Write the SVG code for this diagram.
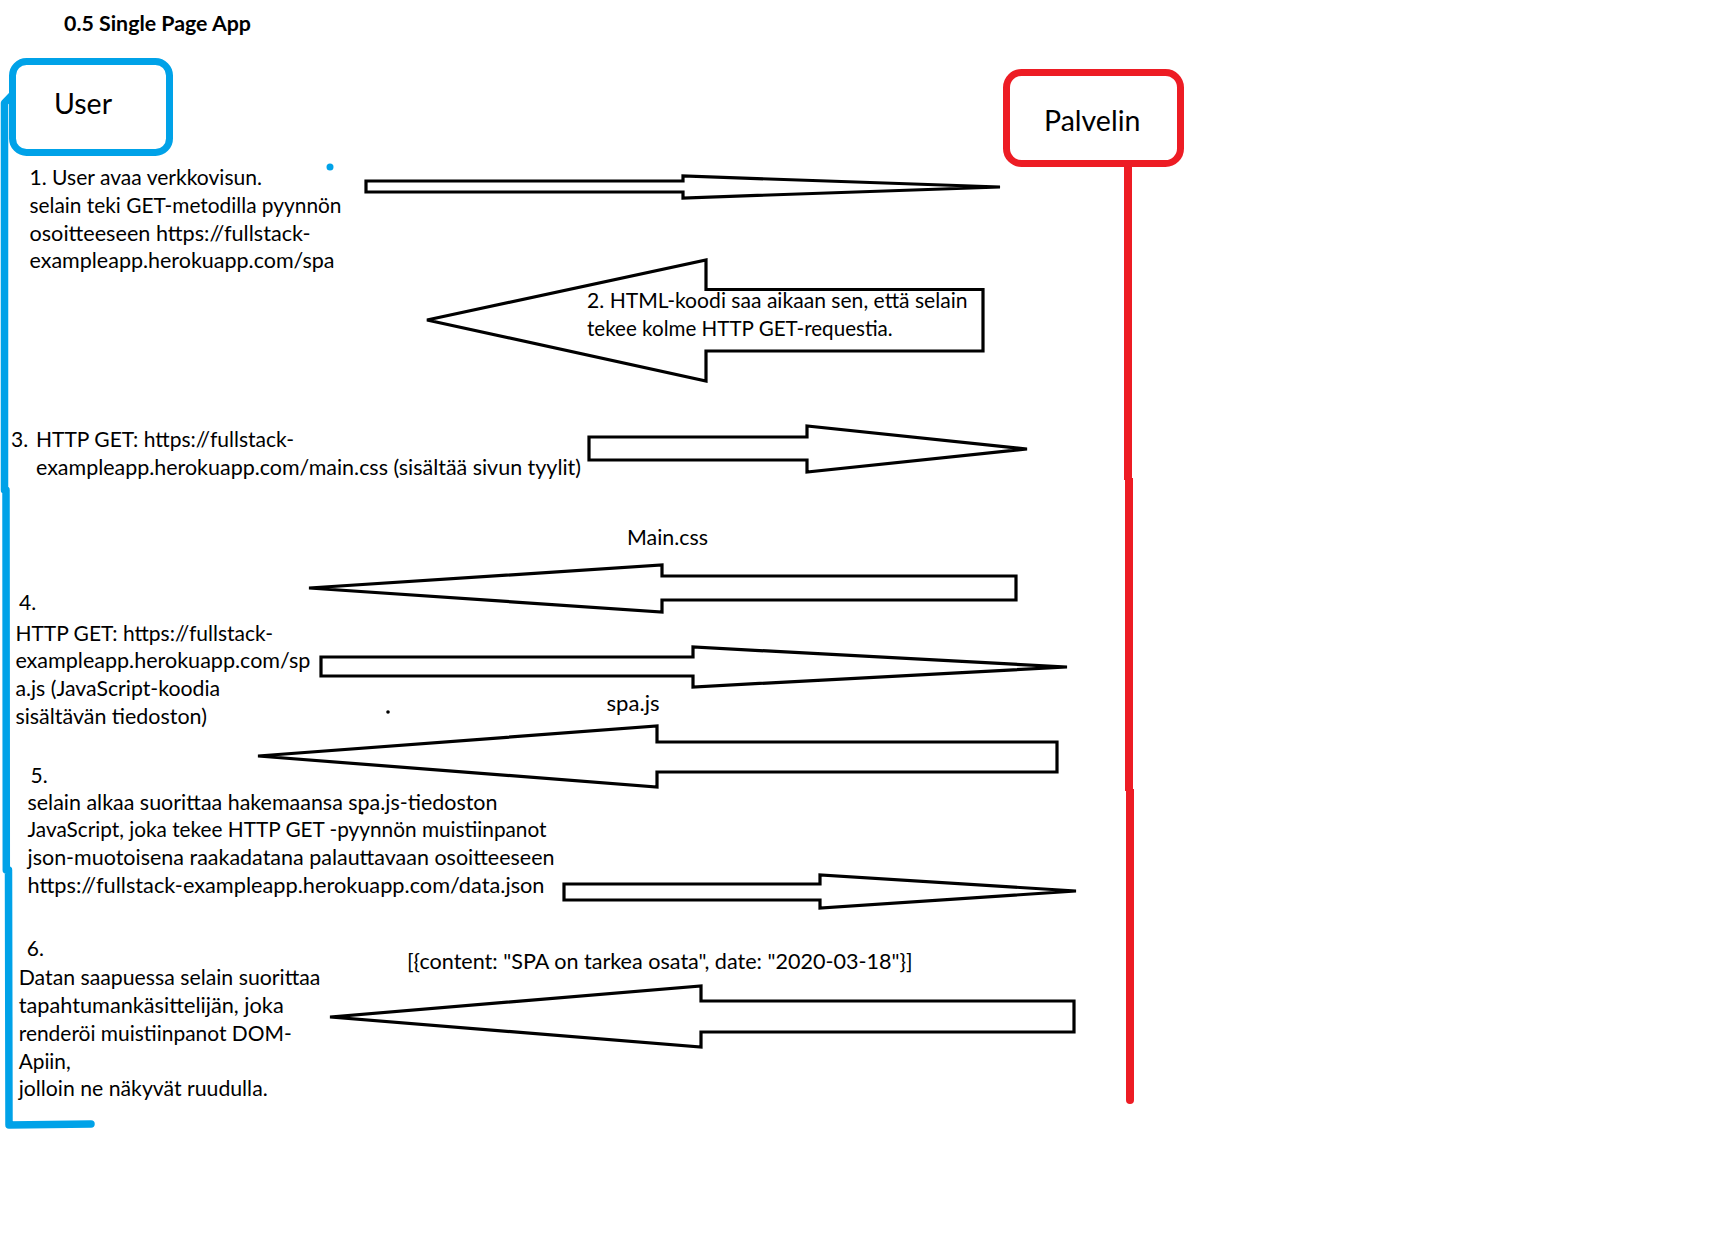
<svg xmlns="http://www.w3.org/2000/svg" width="1726" height="1234" viewBox="0 0 1726 1234">
<style>
  .t { font-family: Lato, "Liberation Sans", sans-serif; font-size: 21px; fill: #000; }
  .title { font-family: Lato, "Liberation Sans", sans-serif; font-size: 21.4px; font-weight: bold; fill: #000; }
  .actor { font-family: Lato, "Liberation Sans", sans-serif; font-size: 28.5px; fill: #000; }
  .arrow { fill: #fff; stroke: #000; stroke-width: 3.2; stroke-linejoin: miter; }
  .blue { fill: none; stroke: #00A2E8; stroke-width: 7.5; stroke-linejoin: round; stroke-linecap: round; }
  .red { fill: none; stroke: #ED1C24; stroke-width: 8; }
</style>
<rect width="1726" height="1234" fill="#fff"/>

<text class="title" x="64" y="31" textLength="187" lengthAdjust="spacingAndGlyphs">0.5 Single Page App</text>

<g id="lifelines">
  <path class="blue" d="M15,92 L4.5,103 L4.5,490 L6,490 L6.3,870 L8.5,870 L9,1125 L91,1124"/>
  <path class="red" d="M1128,165 L1128,480 M1129,478 L1129,791 M1130,789 L1130,1099" />
  <line x1="1130" y1="1095" x2="1130" y2="1100" stroke="#ED1C24" stroke-width="8" stroke-linecap="round"/>
</g>

<g id="user">
  <rect x="12.5" y="61.5" width="157" height="91" rx="14" fill="#fff" stroke="#00A2E8" stroke-width="7"/>
  <text class="actor" x="54" y="114">User</text>
</g>

<g id="palvelin">
  <rect x="1006.5" y="72.5" width="174" height="91" rx="15" fill="#fff" stroke="#ED1C24" stroke-width="7"/>
  <text class="actor" x="1044" y="131">Palvelin</text>
</g>

<g id="connectors">
  <polygon id="arrow1" class="arrow" points="366,181 683,181 683,176 1000,187 683,198 683,192 366,192"/>
  <polygon id="arrow2" class="arrow" points="983,289.5 706,289.5 706,260 427,320 706,381 706,351 983,351"/>
  <polygon id="arrow3" class="arrow" points="589,437 807,437 807,426 1027,449 807,472 807,460 589,460"/>
  <polygon id="arrow4" class="arrow" points="1016,576 662,576 662,565 309,588 662,612 662,600 1016,600"/>
  <polygon id="arrow5" class="arrow" points="321,657 693,657 693,647 1067,667 693,687 693,676 321,676"/>
  <polygon id="arrow6" class="arrow" points="1057,742 657,742 657,726 258,756 657,787 657,772 1057,772"/>
  <polygon id="arrow7" class="arrow" points="564,884 820,884 820,875 1076,891 820,908 820,900 564,900"/>
  <polygon id="arrow8" class="arrow" points="1074,1001 701,1001 701,986 330,1017 701,1047 701,1032 1074,1032"/>
</g>

<g id="marks">
  <circle cx="330" cy="167" r="3.5" fill="#00A2E8"/>
  <circle cx="388" cy="712" r="1.8" fill="#000"/>
  <circle cx="362" cy="813" r="1.5" fill="#000"/>
</g>

<g id="labels">
  <text class="t" x="29.5" y="185" textLength="232.5" lengthAdjust="spacingAndGlyphs">1. User avaa verkkovisun.</text>
  <text class="t" x="29.5" y="213" textLength="312" lengthAdjust="spacingAndGlyphs">selain teki GET-metodilla pyynnön</text>
  <text class="t" x="29.5" y="241" textLength="281" lengthAdjust="spacingAndGlyphs">osoitteeseen https://fullstack-</text>
  <text class="t" x="29.5" y="268" textLength="305" lengthAdjust="spacingAndGlyphs">exampleapp.herokuapp.com/spa</text>

  <text class="t" x="587" y="308" textLength="380.6" lengthAdjust="spacingAndGlyphs">2. HTML-koodi saa aikaan sen, että selain</text>
  <text class="t" x="587" y="336" textLength="305.7" lengthAdjust="spacingAndGlyphs">tekee kolme HTTP GET-requestia.</text>

  <text class="t" x="11" y="447">3.</text>
  <text class="t" x="36" y="447" textLength="258" lengthAdjust="spacingAndGlyphs">HTTP GET: https://fullstack-</text>
  <text class="t" x="36" y="475" textLength="545" lengthAdjust="spacingAndGlyphs">exampleapp.herokuapp.com/main.css (sisältää sivun tyylit)</text>

  <text class="t" x="627" y="545" textLength="81" lengthAdjust="spacingAndGlyphs">Main.css</text>

  <text class="t" x="19" y="610">4.</text>
  <text class="t" x="15.4" y="641" textLength="257.6" lengthAdjust="spacingAndGlyphs">HTTP GET: https://fullstack-</text>
  <text class="t" x="15.4" y="668" textLength="295" lengthAdjust="spacingAndGlyphs">exampleapp.herokuapp.com/sp</text>
  <text class="t" x="15.4" y="696" textLength="204.8" lengthAdjust="spacingAndGlyphs">a.js (JavaScript-koodia</text>
  <text class="t" x="15.4" y="724" textLength="191.5" lengthAdjust="spacingAndGlyphs">sisältävän tiedoston)</text>

  <text class="t" x="606.5" y="711" textLength="53" lengthAdjust="spacingAndGlyphs">spa.js</text>

  <text class="t" x="30.5" y="783">5.</text>
  <text class="t" x="27.5" y="810" textLength="470" lengthAdjust="spacingAndGlyphs">selain alkaa suorittaa hakemaansa spa.js-tiedoston</text>
  <text class="t" x="27.5" y="837" textLength="519" lengthAdjust="spacingAndGlyphs">JavaScript, joka tekee HTTP GET -pyynnön muistiinpanot</text>
  <text class="t" x="27.5" y="865" textLength="527" lengthAdjust="spacingAndGlyphs">json-muotoisena raakadatana palauttavaan osoitteeseen</text>
  <text class="t" x="27.5" y="893" textLength="517" lengthAdjust="spacingAndGlyphs">https://fullstack-exampleapp.herokuapp.com/data.json</text>

  <text class="t" x="407" y="969" textLength="505.6" lengthAdjust="spacingAndGlyphs">[{content: "SPA on tarkea osata", date: "2020-03-18"}]</text>

  <text class="t" x="26.8" y="956">6.</text>
  <text class="t" x="18.7" y="985" textLength="301.6" lengthAdjust="spacingAndGlyphs">Datan saapuessa selain suorittaa</text>
  <text class="t" x="18.7" y="1013" textLength="265" lengthAdjust="spacingAndGlyphs">tapahtumankäsittelijän, joka</text>
  <text class="t" x="18.7" y="1041" textLength="273" lengthAdjust="spacingAndGlyphs">renderöi muistiinpanot DOM-</text>
  <text class="t" x="18.7" y="1069" textLength="52" lengthAdjust="spacingAndGlyphs">Apiin,</text>
  <text class="t" x="18.7" y="1096" textLength="249" lengthAdjust="spacingAndGlyphs">jolloin ne näkyvät ruudulla.</text>
</g>
</svg>
